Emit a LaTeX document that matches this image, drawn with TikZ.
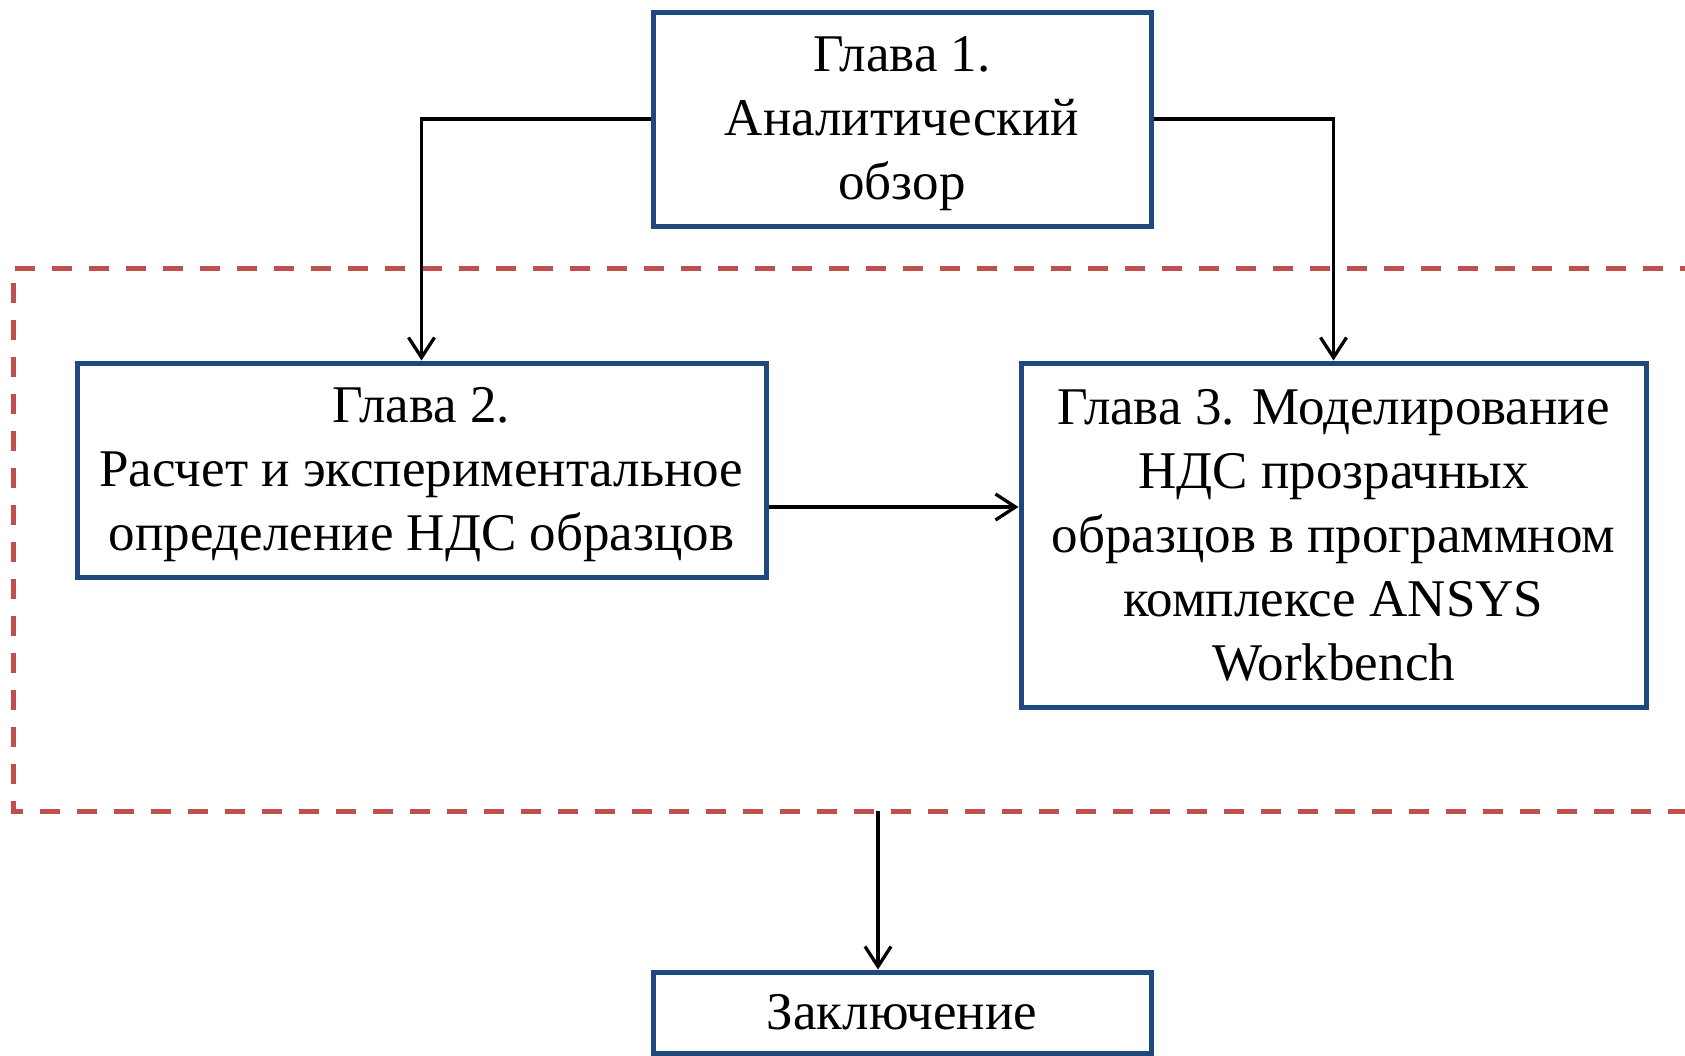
\documentclass[tikz,border=0pt]{standalone}
\usepackage{fontspec}
\setmainfont{Liberation Serif}
\usetikzlibrary{arrows.meta}
\definecolor{boxblue}{RGB}{31,73,125}
\definecolor{dashred}{RGB}{192,80,77}
\tikzset{
  chapbox/.style={draw=boxblue, line width=5pt, fill=white, inner sep=0pt,
    align=center, font=\fontsize{53pt}{64pt}\selectfont},
  arr/.style={draw=black, line width=3.3pt, -{Straight Barb[length=20pt,width=26pt,line width=3.3pt]}},
  frame/.style={draw=dashred, line width=5pt, dash pattern=on 20pt off 17pt}
}
\begin{document}
\begin{tikzpicture}[x=1pt,y=-1pt]
\useasboundingbox (0,0) rectangle (1685,1055);
% dashed frame
\coordinate (ftr) at (1700,268);
\coordinate (ftl) at (13,268);
\coordinate (fbl) at (13,811);
\coordinate (fbr) at (1700,811);
\draw[frame] (ftr) -- (ftl) -- (fbl) -- (fbr);
% boxes
\node[chapbox, minimum width=498pt, minimum height=214pt] (b1) at (902,119)
  {\rule{0pt}{44pt}Глава 1.\\Аналитический\\обзор};
\node[chapbox, minimum width=689pt, minimum height=214pt] (b2) at (421.5,470)
  {\rule{0pt}{44pt}Глава 2.\\Расчет и экспериментальное\\определение НДС образцов};
\node[chapbox, minimum width=625pt, minimum height=344pt] (b3) at (1333.5,535)
  {Глава 3. Моделирование\\НДС прозрачных\\образцов в программном\\комплексе ANSYS\\Workbench};
\node[chapbox, minimum width=498pt, minimum height=81pt] (b4) at (902,1012.5)
  {Заключение};
% connectors
\draw[arr] (b1.west) -| (b2.north);
\draw[arr] (b1.east) -| (b3.north);
\coordinate (mid) at (0,507);
\draw[arr] (b2.east |- mid) -- (b3.west |- mid);
\coordinate (fout) at (878,811);
\draw[arr] (fout) -- (b4.north -| fout);
\end{tikzpicture}
\end{document}
